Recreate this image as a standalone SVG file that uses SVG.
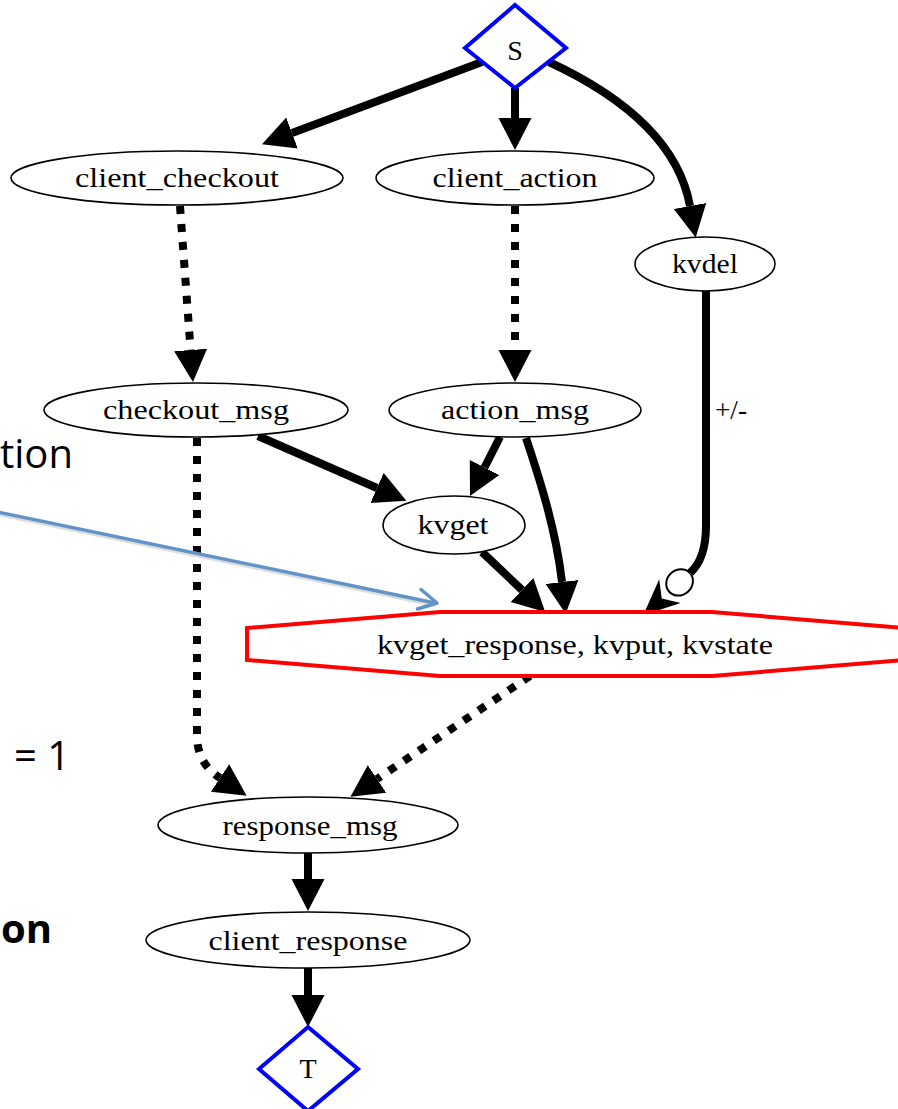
<svg xmlns="http://www.w3.org/2000/svg" width="898" height="1109" viewBox="0 0 898 1109">
  <style>
    .node ellipse { fill: #ffffff; stroke: #000000; stroke-width: 1.6; }
    .diamond { fill: #ffffff; stroke: #0000ff; stroke-width: 4; }
    .label { font-family: "Liberation Serif", "Times New Roman", serif; font-size: 27px; fill: #000000; text-anchor: middle; }
    .big { font-family: "Liberation Serif", "Times New Roman", serif; font-size: 28px; fill: #000000; text-anchor: middle; }
    .edge { fill: none; stroke: #000000; stroke-width: 8; }
    .solid { marker-end: url(#head); }
    .dotted { stroke-dasharray: 8 10; marker-end: url(#head); }
    .side { font-family: "Open Sans", "Liberation Sans", sans-serif; font-size: 40px; fill: #000000; }
  </style>
  <defs>
    <!-- filled triangular arrowhead, base sits on the path end -->
    <marker id="head" markerUnits="userSpaceOnUse" viewBox="0 -17 33 34" refX="0" refY="0" markerWidth="33" markerHeight="34" orient="auto">
      <path d="M0,-16.5 L32,0 L0,16.5 Z" fill="#000000"/>
    </marker>
    <!-- open dot followed by a vee head -->
    <marker id="odotvee" markerUnits="userSpaceOnUse" viewBox="0 -18 64 36" refX="0" refY="0" markerWidth="64" markerHeight="36" orient="auto">
      <ellipse cx="14" cy="0" rx="14" ry="12.5" fill="#ffffff" stroke="#000000" stroke-width="2"/>
      <path d="M63,0 L27,-16 L38,0 L27,16 Z" fill="#000000"/>
    </marker>
  </defs>

  <!-- side text fragments -->
  <text class="side" x="0" y="468">tion</text>
  <text class="side" x="14" y="770">= 1</text>
  <text class="side" x="1" y="943" font-weight="bold">on</text>

  <!-- connectors -->
  <g id="edges">
    <path class="edge solid" d="M482,62 L292,133"/>
    <path class="edge solid" d="M515,88 L515,118"/>
    <path class="edge solid" d="M549,62 C620,95 678,140 690,206"/>
    <path class="edge dotted" d="M180,206 L190.6,350"/>
    <path class="edge dotted" d="M515,206 L515,350"/>
    <path class="edge" d="M706,291 L706,526 C706,550 700,564 690,573" marker-end="url(#odotvee)"/>
    <text class="label" x="731" y="419" font-size="19" textLength="32" lengthAdjust="spacingAndGlyphs">+/-</text>
    <path class="edge solid" d="M258,436 L377,488"/>
    <path class="edge solid" d="M500,437 L484.5,467.5"/>
    <path class="edge solid" d="M526,438 C540,480 556,530 562,582"/>
    <path class="edge solid" d="M482,552 L522,590"/>
    <path class="edge dotted" d="M197,438 L197,735 C197,755 205,768 220,778"/>
    <path class="edge dotted" d="M530,676 L377,779"/>
    <path class="edge solid" d="M308,853 L308,879"/>
    <path class="edge solid" d="M308,968 L308,995"/>
  </g>

  <!-- nodes -->
  <g id="S">
    <polygon class="diamond" points="515,5 566,48 515,88 465,48"/>
    <text class="big" x="515" y="60">S</text>
  </g>
  <g id="client_checkout" class="node">
    <ellipse cx="177" cy="178" rx="166" ry="27"/>
    <text class="label" x="177" y="187" textLength="204" lengthAdjust="spacingAndGlyphs">client_checkout</text>
  </g>
  <g id="client_action" class="node">
    <ellipse cx="515" cy="178" rx="139" ry="27"/>
    <text class="label" x="515" y="187" textLength="165" lengthAdjust="spacingAndGlyphs">client_action</text>
  </g>
  <g id="kvdel" class="node">
    <ellipse cx="705" cy="264" rx="70" ry="27"/>
    <text class="label" x="705" y="273" textLength="66" lengthAdjust="spacingAndGlyphs">kvdel</text>
  </g>
  <g id="checkout_msg" class="node">
    <ellipse cx="196" cy="410" rx="152" ry="27"/>
    <text class="label" x="196" y="419" textLength="186" lengthAdjust="spacingAndGlyphs">checkout_msg</text>
  </g>
  <g id="action_msg" class="node">
    <ellipse cx="515" cy="410" rx="126" ry="27"/>
    <text class="label" x="515" y="419" textLength="148" lengthAdjust="spacingAndGlyphs">action_msg</text>
  </g>
  <g id="kvget" class="node">
    <ellipse cx="454" cy="525" rx="71" ry="29"/>
    <text class="label" x="453" y="534" textLength="71" lengthAdjust="spacingAndGlyphs">kvget</text>
  </g>
  <g id="kv_group">
    <polygon points="440,612 712,612 905,628 905,660 712,676 440,676 247,660 247,628" fill="#ffffff" stroke="#ff0000" stroke-width="4"/>
    <text class="label" x="575" y="654" textLength="396" lengthAdjust="spacingAndGlyphs">kvget_response, kvput, kvstate</text>
  </g>
  <g id="response_msg" class="node">
    <ellipse cx="308" cy="825" rx="150" ry="28"/>
    <text class="label" x="310" y="835" textLength="175" lengthAdjust="spacingAndGlyphs">response_msg</text>
  </g>
  <g id="client_response" class="node">
    <ellipse cx="308" cy="940" rx="162" ry="28"/>
    <text class="label" x="308" y="950" textLength="199" lengthAdjust="spacingAndGlyphs">client_response</text>
  </g>
  <g id="T">
    <polygon class="diamond" points="308,1027 358,1069 308,1111 259,1069"/>
    <text class="big" x="308" y="1078">T</text>
  </g>

  <!-- blue pointer arrow -->
  <g id="pointer">
    <path d="M-2,514 L435,605" fill="none" stroke="#8a8a8a" stroke-opacity="0.3" stroke-width="4"/>
    <path d="M-2,512 L435,603" fill="none" stroke="#6394c8" stroke-width="3.5"/>
    <path d="M421,589.5 L437,603 L417.5,609" fill="none" stroke="#6394c8" stroke-width="3.5" stroke-linecap="round" stroke-linejoin="round"/>
  </g>
</svg>
